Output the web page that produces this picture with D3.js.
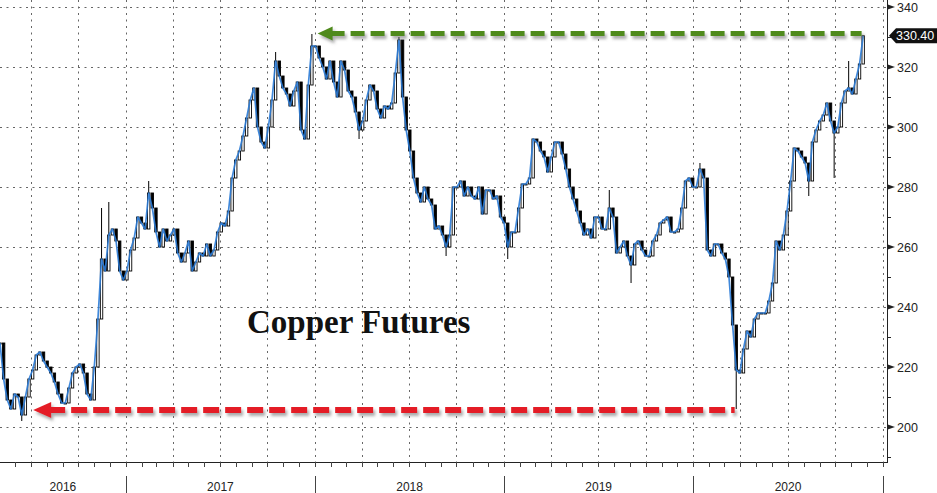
<!DOCTYPE html>
<html>
<head>
<meta charset="utf-8">
<script src="https://cdn.jsdelivr.net/npm/d3@7/dist/d3.min.js"></script>
<style>
  html, body { margin: 0; padding: 0; background: #fff; }
  svg { display: block; }
</style>
</head>
<body>
<svg id="chart" width="937" height="493"></svg>
<script>
// ---------------- DATA (weekly closes, copper futures, US cents/lb) ----------------
const firstWeek = "2016-05-03";
const close2016 = [228, 216, 209, 206, 211, 210, 204, 210, 216, 219, 224, 225, 222, 220, 218, 215, 211, 208, 208, 213, 218, 220, 221, 218, 211, 209, 220, 236, 256, 252, 264, 266, 262, 252, 249];
const close2017 = [252, 259, 263, 270, 268, 266, 278, 273, 265, 260, 266, 262, 264, 266, 258, 255, 258, 262, 252, 255, 258, 257, 261, 257, 259, 265, 268, 267, 272, 283, 289, 292, 297, 303, 309, 313, 300, 295, 293, 300, 309, 322, 317, 313, 311, 307, 312, 315, 299, 296, 314, 327];
const close2018 = [327, 323, 320, 316, 322, 315, 310, 322, 319, 312, 310, 305, 299, 302, 309, 314, 312, 306, 303, 307, 306, 308, 318, 329, 310, 299, 292, 283, 278, 275, 280, 276, 274, 266, 267, 264, 260, 264, 280, 280, 282, 277, 280, 277, 276, 280, 271, 279, 279, 276, 277, 270];
const close2019 = [268, 260, 265, 265, 273, 281, 281, 283, 296, 295, 292, 290, 285, 290, 295, 295, 291, 286, 280, 276, 272, 268, 264, 266, 263, 270, 270, 266, 266, 273, 270, 258, 260, 262, 257, 254, 261, 262, 259, 257, 257, 262, 264, 268, 269, 270, 265, 265, 266, 273, 282, 283];
const close2020 = [280, 280, 286, 283, 259, 257, 261, 261, 258, 256, 250, 234, 219, 218, 226, 232, 230, 236, 238, 238, 238, 242, 248, 262, 259, 264, 272, 282, 293, 292, 290, 288, 282, 295, 299, 302, 304, 308, 302, 298, 300, 308, 312, 313, 311, 316, 321, 330.4];
// notable wick extremes: [week index, low, high]
const wicks = [[6, 202, null], [28, null, 273], [30, null, 275], [41, null, 282], [76, null, 325], [86, null, 331],
               [99, 296, null], [110, null, 330], [123, 257, null], [140, 256, null], [168, null, 279], [174, 248, null],
               [193, null, 288], [203, 206, null], [223, 277, null], [230, 283, null], [234, null, 322]];
const yTicks = [200, 220, 240, 260, 280, 300, 320, 340];
const yMinorTicks = [190, 210, 230, 250, 270, 290, 310, 330];
const yearLabels = ["2016", "2017", "2018", "2019", "2020"];
const lastLabel = "330.40";
const title = "Copper Futures";
const highArrow = { from: "2018-01-06", to: "2020-11-21", value: 331.2 };
const lowArrow = { from: "2016-07-06", to: "2020-03-21", value: 205.7 };

// ---------------- BUILD ----------------
const closes = [].concat(close2016, close2017, close2018, close2019, close2020);
const t0 = d3.timeParse("%Y-%m-%d")(firstWeek);
const wickMap = new Map(wicks.map(w => [w[0], w]));
const data = closes.map((c, i) => {
  const open = i === 0 ? c : closes[i - 1];
  const w = wickMap.get(i);
  return {
    date: d3.timeDay.offset(t0, i * 7),
    open, close: c,
    low: w && w[1] != null ? w[1] : Math.min(open, c),
    high: w && w[2] != null ? w[2] : Math.max(open, c)
  };
});

const svg = d3.select("#chart");
const W = 937, H = 493;
const plotRight = 887, plotBottom = 462;
const parse = d3.timeParse("%Y-%m-%d");

const x = d3.scaleTime()
  .domain([parse("2016-05-03"), parse("2021-01-09")])
  .range([0, plotRight]);
const y = d3.scaleLinear().domain([200, 340]).range([427, 7]);

// defs: shadow
const defs = svg.append("defs");
const f = defs.append("filter").attr("id", "shadow").attr("x", "-5%").attr("y", "-100%").attr("width", "110%").attr("height", "300%");
f.append("feDropShadow").attr("dx", 2).attr("dy", 3).attr("stdDeviation", 1.8)
  .attr("flood-color", "#666").attr("flood-opacity", 0.55);

// grid
const grid = svg.append("g");
grid.selectAll("line.h").data(yTicks).join("line")
  .attr("x1", 0).attr("x2", plotRight)
  .attr("y1", d => Math.round(y(d)) + 0.5).attr("y2", d => Math.round(y(d)) + 0.5)
  .attr("stroke", "#666").attr("stroke-width", 1).attr("stroke-dasharray", "2,4.5");
const quarters = d3.timeMonth.every(3).range(x.domain()[0], x.domain()[1]);
grid.selectAll("line.v").data(quarters).join("line")
  .attr("x1", d => Math.round(x(d)) + 0.5).attr("x2", d => Math.round(x(d)) + 0.5)
  .attr("y1", 0).attr("y2", plotBottom)
  .attr("stroke", "#666").attr("stroke-width", 1).attr("stroke-dasharray", "2,4.5");

// candles
const bw = 2.4;
const cg = svg.append("g");
cg.selectAll("line.wick").data(data).join("line")
  .attr("x1", d => x(d.date)).attr("x2", d => x(d.date))
  .attr("y1", d => y(d.high)).attr("y2", d => y(d.low))
  .attr("stroke", "#000").attr("stroke-width", 1);
cg.selectAll("rect").data(data).join("rect")
  .attr("x", d => x(d.date) - bw / 2)
  .attr("y", d => y(Math.max(d.open, d.close)))
  .attr("width", bw)
  .attr("height", d => Math.max(1, Math.abs(y(d.open) - y(d.close))))
  .attr("fill", d => d.close >= d.open ? "#fff" : "#000")
  .attr("stroke", "#000").attr("stroke-width", 0.9);

// blue close line (drawn over the candles)
svg.append("path").datum(data)
  .attr("fill", "none").attr("stroke", "#2b7bd6").attr("stroke-width", 1.7)
  .attr("stroke-opacity", 0.9)
  .attr("stroke-linejoin", "round")
  .attr("d", d3.line().x(d => x(d.date)).y(d => y(d.close)));

// arrows
function arrow(a, color, dash, sw, head, headH) {
  const g = svg.append("g").attr("filter", "url(#shadow)");
  const yy = y(a.value), x1 = x(parse(a.from)), x2 = x(parse(a.to));
  g.append("line").attr("x1", x1 + head - 2).attr("x2", x2).attr("y1", yy).attr("y2", yy)
    .attr("stroke", color).attr("stroke-width", sw).attr("stroke-dasharray", dash);
  g.append("path").attr("fill", color)
    .attr("d", `M${x1},${yy} L${x1 + head},${yy - headH} L${x1 + head},${yy + headH} Z`);
}
arrow(highArrow, "#4f8a1c", "14,6", 5, 15, 7);
arrow(lowArrow, "#e41e26", "16,6", 6, 18, 8);

// title
svg.append("text").attr("x", 247).attr("y", 333)
  .attr("font-family", "'Liberation Serif', 'DejaVu Serif', serif")
  .attr("font-weight", "bold").attr("font-size", 33).attr("fill", "#111")
  .text(title);

// y axis
const ax = svg.append("g");
ax.append("line").attr("x1", plotRight + 0.5).attr("x2", plotRight + 0.5).attr("y1", 0).attr("y2", plotBottom)
  .attr("stroke", "#222").attr("stroke-width", 1);
ax.selectAll("path.tri").data(yTicks).join("path")
  .attr("fill", "#222")
  .attr("d", d => `M${plotRight},${y(d) - 2.8} L${plotRight + 8},${y(d)} L${plotRight},${y(d) + 2.8} Z`);
ax.selectAll("line.minor").data(yMinorTicks).join("line")
  .attr("x1", plotRight).attr("x2", plotRight + 4)
  .attr("y1", d => Math.round(y(d)) + 0.5).attr("y2", d => Math.round(y(d)) + 0.5)
  .attr("stroke", "#222");
ax.selectAll("text").data(yTicks).join("text")
  .attr("x", 897).attr("y", d => y(d)).attr("dy", "0.36em")
  .attr("font-family", "'Liberation Sans', Arial, sans-serif").attr("font-size", 12.5).attr("fill", "#222")
  .text(d => d);

// last price tag
const ly = y(closes[closes.length - 1]);
svg.append("path").attr("fill", "#111")
  .attr("d", `M${plotRight + 2},${ly} L${plotRight + 9},${ly - 7.5} L${W},${ly - 7.5} L${W},${ly + 7.5} L${plotRight + 9},${ly + 7.5} Z`);
svg.append("text").attr("x", 896).attr("y", ly).attr("dy", "0.36em")
  .attr("font-family", "'Liberation Sans', Arial, sans-serif").attr("font-size", 12.5).attr("fill", "#fff")
  .text(lastLabel);

// x axis
const xa = svg.append("g");
xa.append("line").attr("x1", 0).attr("x2", plotRight + 1).attr("y1", plotBottom + 0.5).attr("y2", plotBottom + 0.5)
  .attr("stroke", "#222");
const months = d3.timeMonth.range(x.domain()[0], x.domain()[1]);
xa.selectAll("line.mt").data(months).join("line")
  .attr("x1", d => Math.round(x(d)) + 0.5).attr("x2", d => Math.round(x(d)) + 0.5)
  .attr("y1", plotBottom).attr("y2", plotBottom + 5).attr("stroke", "#444");
const years = d3.timeYear.range(x.domain()[0], x.domain()[1]);
xa.selectAll("line.yt").data(years).join("line")
  .attr("x1", d => Math.round(x(d)) + 0.5).attr("x2", d => Math.round(x(d)) + 0.5)
  .attr("y1", 476).attr("y2", H).attr("stroke", "#444");
const yearStarts = yearLabels.map(s => parse(s + "-01-01"));
xa.selectAll("text").data(yearLabels).join("text")
  .attr("x", (d, i) => {
    const a = Math.max(0, x(yearStarts[i]));
    const b = Math.min(plotRight - 4, x(d3.timeYear.offset(yearStarts[i], 1)));
    return (a + b) / 2;
  })
  .attr("y", 491).attr("text-anchor", "middle")
  .attr("font-family", "'Liberation Sans', Arial, sans-serif").attr("font-size", 12).attr("fill", "#222")
  .text(d => d);
</script>
</body>
</html>
